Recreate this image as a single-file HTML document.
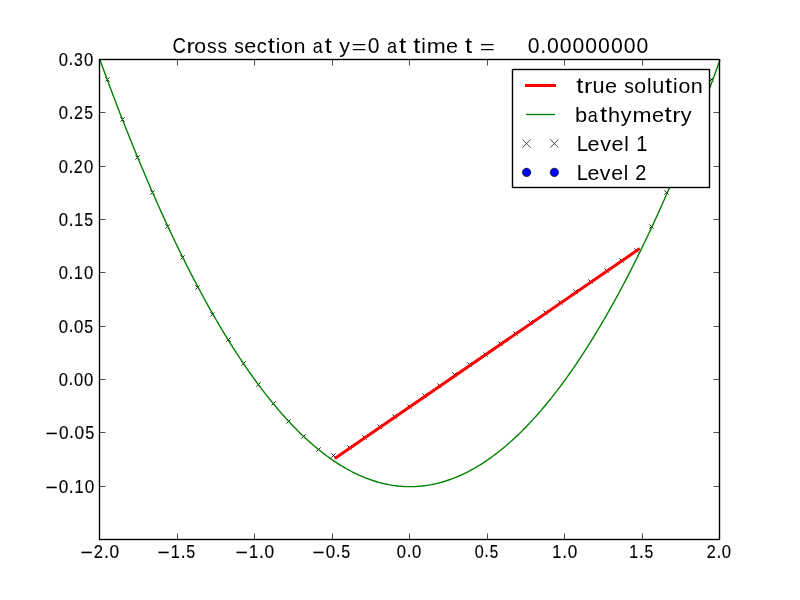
<!DOCTYPE html><html><head><meta charset="utf-8"><style>html,body{margin:0;padding:0;background:#fff;overflow:hidden}svg{display:block;will-change:transform}</style></head><body><svg width="800" height="600" viewBox="0 0 800 600">
<rect width="800" height="600" fill="#fff"/>
<path d="M105.40 77.40l4.20 4.20M105.40 81.60l4.20 -4.20M120.40 117.40l4.20 4.20M120.40 121.60l4.20 -4.20M135.40 155.40l4.20 4.20M135.40 159.60l4.20 -4.20M150.40 190.40l4.20 4.20M150.40 194.60l4.20 -4.20M165.40 224.40l4.20 4.20M165.40 228.60l4.20 -4.20M180.40 255.40l4.20 4.20M180.40 259.60l4.20 -4.20M195.40 285.40l4.20 4.20M195.40 289.60l4.20 -4.20M210.40 312.40l4.20 4.20M210.40 316.60l4.20 -4.20M226.40 337.40l4.20 4.20M226.40 341.60l4.20 -4.20M241.40 361.40l4.20 4.20M241.40 365.60l4.20 -4.20M256.40 382.40l4.20 4.20M256.40 386.60l4.20 -4.20M271.40 401.40l4.20 4.20M271.40 405.60l4.20 -4.20M286.40 419.40l4.20 4.20M286.40 423.60l4.20 -4.20M301.40 434.40l4.20 4.20M301.40 438.60l4.20 -4.20M316.40 447.40l4.20 4.20M316.40 451.60l4.20 -4.20M331.40 453.40l4.20 4.20M331.40 457.60l4.20 -4.20M347.40 445.40l4.20 4.20M347.40 449.60l4.20 -4.20M362.40 435.40l4.20 4.20M362.40 439.60l4.20 -4.20M377.40 424.40l4.20 4.20M377.40 428.60l4.20 -4.20M392.40 414.40l4.20 4.20M392.40 418.60l4.20 -4.20M407.40 404.40l4.20 4.20M407.40 408.60l4.20 -4.20M422.40 393.40l4.20 4.20M422.40 397.60l4.20 -4.20M437.40 383.40l4.20 4.20M437.40 387.60l4.20 -4.20M452.40 372.40l4.20 4.20M452.40 376.60l4.20 -4.20M467.40 362.40l4.20 4.20M467.40 366.60l4.20 -4.20M483.40 352.40l4.20 4.20M483.40 356.60l4.20 -4.20M498.40 341.40l4.20 4.20M498.40 345.60l4.20 -4.20M513.40 331.40l4.20 4.20M513.40 335.60l4.20 -4.20M528.40 320.40l4.20 4.20M528.40 324.60l4.20 -4.20M543.40 310.40l4.20 4.20M543.40 314.60l4.20 -4.20M558.40 300.40l4.20 4.20M558.40 304.60l4.20 -4.20M573.40 289.40l4.20 4.20M573.40 293.60l4.20 -4.20M588.40 279.40l4.20 4.20M588.40 283.60l4.20 -4.20M604.40 268.40l4.20 4.20M604.40 272.60l4.20 -4.20M619.40 258.40l4.20 4.20M619.40 262.60l4.20 -4.20M634.40 248.40l4.20 4.20M634.40 252.60l4.20 -4.20M649.40 224.40l4.20 4.20M649.40 228.60l4.20 -4.20M664.40 190.40l4.20 4.20M664.40 194.60l4.20 -4.20M679.40 155.40l4.20 4.20M679.40 159.60l4.20 -4.20M694.40 117.40l4.20 4.20M694.40 121.60l4.20 -4.20M709.40 77.40l4.20 4.20M709.40 81.60l4.20 -4.20" stroke="#000" stroke-width="0.85" fill="none"/>
<polyline points="100.00,60.00 101.55,64.26 103.10,68.49 104.65,72.70 106.20,76.90 107.75,81.07 109.30,85.22 110.85,89.34 112.40,93.45 113.95,97.54 115.50,101.60 117.05,105.64 118.60,109.66 120.15,113.66 121.70,117.64 123.25,121.60 124.80,125.54 126.35,129.45 127.90,133.34 129.45,137.22 131.00,141.07 132.55,144.90 134.10,148.70 135.65,152.49 137.20,156.26 138.75,160.00 140.30,163.72 141.85,167.42 143.40,171.10 144.95,174.76 146.50,178.40 148.05,182.02 149.60,185.61 151.15,189.18 152.70,192.74 154.25,196.27 155.80,199.78 157.35,203.26 158.90,206.73 160.45,210.18 162.00,213.60 163.55,217.00 165.10,220.38 166.65,223.74 168.20,227.08 169.75,230.40 171.30,233.70 172.85,236.97 174.40,240.22 175.95,243.46 177.50,246.67 179.05,249.86 180.60,253.02 182.15,256.17 183.70,259.30 185.25,262.40 186.80,265.48 188.35,268.54 189.90,271.58 191.45,274.60 193.00,277.60 194.55,280.58 196.10,283.53 197.65,286.46 199.20,289.38 200.75,292.27 202.30,295.14 203.85,297.98 205.40,300.81 206.95,303.62 208.50,306.40 210.05,309.16 211.60,311.90 213.15,314.62 214.70,317.32 216.25,320.00 217.80,322.66 219.35,325.29 220.90,327.90 222.45,330.50 224.00,333.07 225.55,335.62 227.10,338.14 228.65,340.65 230.20,343.14 231.75,345.60 233.30,348.04 234.85,350.46 236.40,352.86 237.95,355.24 239.50,357.60 241.05,359.94 242.60,362.25 244.15,364.54 245.70,366.82 247.25,369.07 248.80,371.30 250.35,373.50 251.90,375.69 253.45,377.86 255.00,380.00 256.55,382.12 258.10,384.22 259.65,386.30 261.20,388.36 262.75,390.40 264.30,392.42 265.85,394.41 267.40,396.38 268.95,398.34 270.50,400.27 272.05,402.18 273.60,404.06 275.15,405.93 276.70,407.78 278.25,409.60 279.80,411.40 281.35,413.18 282.90,414.94 284.45,416.68 286.00,418.40 287.55,420.10 289.10,421.77 290.65,423.42 292.20,425.06 293.75,426.67 295.30,428.26 296.85,429.82 298.40,431.37 299.95,432.90 301.50,434.40 303.05,435.88 304.60,437.34 306.15,438.78 307.70,440.20 309.25,441.60 310.80,442.98 312.35,444.33 313.90,445.66 315.45,446.98 317.00,448.27 318.55,449.54 320.10,450.78 321.65,452.01 323.20,453.22 324.75,454.40 326.30,455.56 327.85,456.70 329.40,457.82 330.95,458.92 332.50,460.00 334.05,461.06 335.60,462.09 337.15,463.10 338.70,464.10 340.25,465.07 341.80,466.02 343.35,466.94 344.90,467.85 346.45,468.74 348.00,469.60 349.55,470.44 351.10,471.26 352.65,472.06 354.20,472.84 355.75,473.60 357.30,474.34 358.85,475.05 360.40,475.74 361.95,476.42 363.50,477.07 365.05,477.70 366.60,478.30 368.15,478.89 369.70,479.46 371.25,480.00 372.80,480.52 374.35,481.02 375.90,481.50 377.45,481.96 379.00,482.40 380.55,482.82 382.10,483.21 383.65,483.58 385.20,483.94 386.75,484.27 388.30,484.58 389.85,484.86 391.40,485.13 392.95,485.38 394.50,485.60 396.05,485.80 397.60,485.98 399.15,486.14 400.70,486.28 402.25,486.40 403.80,486.50 405.35,486.57 406.90,486.62 408.45,486.66 410.00,486.67 411.55,486.66 413.10,486.62 414.65,486.57 416.20,486.50 417.75,486.40 419.30,486.28 420.85,486.14 422.40,485.98 423.95,485.80 425.50,485.60 427.05,485.38 428.60,485.13 430.15,484.86 431.70,484.58 433.25,484.27 434.80,483.94 436.35,483.58 437.90,483.21 439.45,482.82 441.00,482.40 442.55,481.96 444.10,481.50 445.65,481.02 447.20,480.52 448.75,480.00 450.30,479.46 451.85,478.89 453.40,478.30 454.95,477.70 456.50,477.07 458.05,476.42 459.60,475.74 461.15,475.05 462.70,474.34 464.25,473.60 465.80,472.84 467.35,472.06 468.90,471.26 470.45,470.44 472.00,469.60 473.55,468.74 475.10,467.85 476.65,466.94 478.20,466.02 479.75,465.07 481.30,464.10 482.85,463.10 484.40,462.09 485.95,461.06 487.50,460.00 489.05,458.92 490.60,457.82 492.15,456.70 493.70,455.56 495.25,454.40 496.80,453.22 498.35,452.01 499.90,450.78 501.45,449.54 503.00,448.27 504.55,446.98 506.10,445.66 507.65,444.33 509.20,442.98 510.75,441.60 512.30,440.20 513.85,438.78 515.40,437.34 516.95,435.88 518.50,434.40 520.05,432.90 521.60,431.37 523.15,429.82 524.70,428.26 526.25,426.67 527.80,425.06 529.35,423.42 530.90,421.77 532.45,420.10 534.00,418.40 535.55,416.68 537.10,414.94 538.65,413.18 540.20,411.40 541.75,409.60 543.30,407.78 544.85,405.93 546.40,404.06 547.95,402.18 549.50,400.27 551.05,398.34 552.60,396.38 554.15,394.41 555.70,392.42 557.25,390.40 558.80,388.36 560.35,386.30 561.90,384.22 563.45,382.12 565.00,380.00 566.55,377.86 568.10,375.69 569.65,373.50 571.20,371.30 572.75,369.07 574.30,366.82 575.85,364.54 577.40,362.25 578.95,359.94 580.50,357.60 582.05,355.24 583.60,352.86 585.15,350.46 586.70,348.04 588.25,345.60 589.80,343.14 591.35,340.65 592.90,338.14 594.45,335.62 596.00,333.07 597.55,330.50 599.10,327.90 600.65,325.29 602.20,322.66 603.75,320.00 605.30,317.32 606.85,314.62 608.40,311.90 609.95,309.16 611.50,306.40 613.05,303.62 614.60,300.81 616.15,297.98 617.70,295.14 619.25,292.27 620.80,289.38 622.35,286.46 623.90,283.53 625.45,280.58 627.00,277.60 628.55,274.60 630.10,271.58 631.65,268.54 633.20,265.48 634.75,262.40 636.30,259.30 637.85,256.17 639.40,253.02 640.95,249.86 642.50,246.67 644.05,243.46 645.60,240.22 647.15,236.97 648.70,233.70 650.25,230.40 651.80,227.08 653.35,223.74 654.90,220.38 656.45,217.00 658.00,213.60 659.55,210.18 661.10,206.73 662.65,203.26 664.20,199.78 665.75,196.27 667.30,192.74 668.85,189.18 670.40,185.61 671.95,182.02 673.50,178.40 675.05,174.76 676.60,171.10 678.15,167.42 679.70,163.72 681.25,160.00 682.80,156.26 684.35,152.49 685.90,148.70 687.45,144.90 689.00,141.07 690.55,137.22 692.10,133.34 693.65,129.45 695.20,125.54 696.75,121.60 698.30,117.64 699.85,113.66 701.40,109.66 702.95,105.64 704.50,101.60 706.05,97.54 707.60,93.45 709.15,89.34 710.70,85.22 712.25,81.07 713.80,76.90 715.35,72.70 716.90,68.49 718.45,64.26 720.00,60.00" fill="none" stroke="#008000" stroke-width="1.39" stroke-linejoin="round"/>
<line x1="334.75" y1="458.45" x2="639.71" y2="248.59" stroke="#f00" stroke-width="3.00"/>
<rect x="99.5" y="59.5" width="620" height="480" fill="none" stroke="#000" stroke-width="1.39"/>
<path d="M177.5 539.5V533.50M177.5 59.5V65.50M254.5 539.5V533.50M254.5 59.5V65.50M332.5 539.5V533.50M332.5 59.5V65.50M409.5 539.5V533.50M409.5 59.5V65.50M487.5 539.5V533.50M487.5 59.5V65.50M564.5 539.5V533.50M564.5 59.5V65.50M642.5 539.5V533.50M642.5 59.5V65.50M99.5 112.5H105.50M719.5 112.5H713.50M99.5 166.5H105.50M719.5 166.5H713.50M99.5 219.5H105.50M719.5 219.5H713.50M99.5 272.5H105.50M719.5 272.5H713.50M99.5 326.5H105.50M719.5 326.5H713.50M99.5 379.5H105.50M719.5 379.5H713.50M99.5 432.5H105.50M719.5 432.5H713.50M99.5 486.5H105.50M719.5 486.5H713.50" stroke="#000" stroke-width="0.69" fill="none"/>
<g font-family="Liberation Sans, sans-serif" font-size="100" style="font-kerning:none">
<g fill="#000"><text transform="matrix(0.1661 0 0 0.1780 58.851 65.526)" stroke="#000" stroke-width="0.697">0</text><text transform="matrix(0.1705 0 0 0.1933 68.615 65.464)" stroke="#000" stroke-width="0.660">.</text><text transform="matrix(0.1595 0 0 0.1780 74.088 65.526)" stroke="#000" stroke-width="0.711">3</text><text transform="matrix(0.1661 0 0 0.1780 83.911 65.526)" stroke="#000" stroke-width="0.697">0</text></g>
<g fill="#000"><text transform="matrix(0.1678 0 0 0.1780 58.845 118.776)" stroke="#000" stroke-width="0.694">0</text><text transform="matrix(0.1722 0 0 0.1933 68.707 118.714)" stroke="#000" stroke-width="0.657">.</text><text transform="matrix(0.1617 0 0 0.1772 73.990 118.714)" stroke="#000" stroke-width="0.708">2</text><text transform="matrix(0.1584 0 0 0.1775 84.358 118.777)" stroke="#000" stroke-width="0.715">5</text></g>
<g fill="#000"><text transform="matrix(0.1661 0 0 0.1780 58.851 172.776)" stroke="#000" stroke-width="0.697">0</text><text transform="matrix(0.1705 0 0 0.1933 68.615 172.714)" stroke="#000" stroke-width="0.660">.</text><text transform="matrix(0.1601 0 0 0.1772 73.844 172.714)" stroke="#000" stroke-width="0.712">2</text><text transform="matrix(0.1661 0 0 0.1780 83.911 172.776)" stroke="#000" stroke-width="0.697">0</text></g>
<g fill="#000"><text transform="matrix(0.1678 0 0 0.1780 58.845 225.776)" stroke="#000" stroke-width="0.694">0</text><text transform="matrix(0.1722 0 0 0.1933 68.707 225.714)" stroke="#000" stroke-width="0.657">.</text><text transform="matrix(0.1603 0 0 0.1766 74.165 225.714)" stroke="#000" stroke-width="0.712">1</text><text transform="matrix(0.1584 0 0 0.1775 84.358 225.777)" stroke="#000" stroke-width="0.715">5</text></g>
<g fill="#000"><text transform="matrix(0.1661 0 0 0.1780 58.851 278.776)" stroke="#000" stroke-width="0.697">0</text><text transform="matrix(0.1705 0 0 0.1933 68.615 278.714)" stroke="#000" stroke-width="0.660">.</text><text transform="matrix(0.1586 0 0 0.1766 74.018 278.714)" stroke="#000" stroke-width="0.716">1</text><text transform="matrix(0.1661 0 0 0.1780 83.911 278.776)" stroke="#000" stroke-width="0.697">0</text></g>
<g fill="#000"><text transform="matrix(0.1678 0 0 0.1780 58.845 332.526)" stroke="#000" stroke-width="0.694">0</text><text transform="matrix(0.1722 0 0 0.1933 68.707 332.464)" stroke="#000" stroke-width="0.657">.</text><text transform="matrix(0.1678 0 0 0.1780 74.031 332.526)" stroke="#000" stroke-width="0.694">0</text><text transform="matrix(0.1584 0 0 0.1775 84.358 332.527)" stroke="#000" stroke-width="0.715">5</text></g>
<g fill="#000"><text transform="matrix(0.1661 0 0 0.1780 58.851 385.526)" stroke="#000" stroke-width="0.697">0</text><text transform="matrix(0.1705 0 0 0.1933 68.615 385.464)" stroke="#000" stroke-width="0.660">.</text><text transform="matrix(0.1661 0 0 0.1780 73.885 385.526)" stroke="#000" stroke-width="0.697">0</text><text transform="matrix(0.1661 0 0 0.1780 83.911 385.526)" stroke="#000" stroke-width="0.697">0</text></g>
<g fill="#000"><text transform="matrix(0.2109 0 0 0.1941 45.460 439.692)" stroke="#000" stroke-width="0.593">−</text><text transform="matrix(0.1726 0 0 0.1780 58.887 438.526)" stroke="#000" stroke-width="0.685">0</text><text transform="matrix(0.1771 0 0 0.1933 69.030 438.464)" stroke="#000" stroke-width="0.648">.</text><text transform="matrix(0.1726 0 0 0.1780 74.506 438.526)" stroke="#000" stroke-width="0.685">0</text><text transform="matrix(0.1629 0 0 0.1775 85.127 438.527)" stroke="#000" stroke-width="0.705">5</text></g>
<g fill="#000"><text transform="matrix(0.2094 0 0 0.1941 45.467 493.942)" stroke="#000" stroke-width="0.595">−</text><text transform="matrix(0.1713 0 0 0.1780 58.797 492.776)" stroke="#000" stroke-width="0.687">0</text><text transform="matrix(0.1758 0 0 0.1933 68.867 492.714)" stroke="#000" stroke-width="0.650">.</text><text transform="matrix(0.1636 0 0 0.1766 74.439 492.714)" stroke="#000" stroke-width="0.705">1</text><text transform="matrix(0.1713 0 0 0.1780 84.642 492.776)" stroke="#000" stroke-width="0.687">0</text></g>
<g fill="#000"><text transform="matrix(0.2113 0 0 0.1941 80.458 558.942)" stroke="#000" stroke-width="0.592">−</text><text transform="matrix(0.1667 0 0 0.1772 93.868 557.714)" stroke="#000" stroke-width="0.698">2</text><text transform="matrix(0.1775 0 0 0.1933 104.074 557.714)" stroke="#000" stroke-width="0.647">.</text><text transform="matrix(0.1729 0 0 0.1780 109.560 557.776)" stroke="#000" stroke-width="0.684">0</text></g>
<g fill="#000"><text transform="matrix(0.2075 0 0 0.1941 157.476 558.942)" stroke="#000" stroke-width="0.598">−</text><text transform="matrix(0.1622 0 0 0.1766 170.825 557.714)" stroke="#000" stroke-width="0.708">1</text><text transform="matrix(0.1743 0 0 0.1933 180.670 557.714)" stroke="#000" stroke-width="0.653">.</text><text transform="matrix(0.1603 0 0 0.1775 186.260 557.777)" stroke="#000" stroke-width="0.711">5</text></g>
<g fill="#000"><text transform="matrix(0.2113 0 0 0.1941 235.458 558.942)" stroke="#000" stroke-width="0.592">−</text><text transform="matrix(0.1651 0 0 0.1766 249.049 557.714)" stroke="#000" stroke-width="0.702">1</text><text transform="matrix(0.1775 0 0 0.1933 259.074 557.714)" stroke="#000" stroke-width="0.647">.</text><text transform="matrix(0.1729 0 0 0.1780 264.560 557.776)" stroke="#000" stroke-width="0.684">0</text></g>
<g fill="#000"><text transform="matrix(0.2075 0 0 0.1941 312.476 558.692)" stroke="#000" stroke-width="0.598">−</text><text transform="matrix(0.1698 0 0 0.1780 325.689 557.526)" stroke="#000" stroke-width="0.690">0</text><text transform="matrix(0.1743 0 0 0.1933 335.670 557.464)" stroke="#000" stroke-width="0.653">.</text><text transform="matrix(0.1603 0 0 0.1775 341.260 557.527)" stroke="#000" stroke-width="0.711">5</text></g>
<g fill="#000"><text transform="matrix(0.1663 0 0 0.1780 396.850 557.526)" stroke="#000" stroke-width="0.697">0</text><text transform="matrix(0.1707 0 0 0.1933 406.625 557.464)" stroke="#000" stroke-width="0.659">.</text><text transform="matrix(0.1663 0 0 0.1780 411.901 557.526)" stroke="#000" stroke-width="0.697">0</text></g>
<g fill="#000"><text transform="matrix(0.1614 0 0 0.1780 474.870 557.526)" stroke="#000" stroke-width="0.707">0</text><text transform="matrix(0.1657 0 0 0.1933 484.356 557.464)" stroke="#000" stroke-width="0.669">.</text><text transform="matrix(0.1523 0 0 0.1775 489.669 557.527)" stroke="#000" stroke-width="0.728">5</text></g>
<g fill="#000"><text transform="matrix(0.1638 0 0 0.1766 552.253 557.714)" stroke="#000" stroke-width="0.705">1</text><text transform="matrix(0.1760 0 0 0.1933 562.194 557.714)" stroke="#000" stroke-width="0.650">.</text><text transform="matrix(0.1715 0 0 0.1780 567.634 557.776)" stroke="#000" stroke-width="0.687">0</text></g>
<g fill="#000"><text transform="matrix(0.1590 0 0 0.1766 629.289 557.714)" stroke="#000" stroke-width="0.715">1</text><text transform="matrix(0.1709 0 0 0.1933 638.941 557.714)" stroke="#000" stroke-width="0.659">.</text><text transform="matrix(0.1571 0 0 0.1775 644.422 557.777)" stroke="#000" stroke-width="0.717">5</text></g>
<g fill="#000"><text transform="matrix(0.1611 0 0 0.1772 706.690 557.714)" stroke="#000" stroke-width="0.710">2</text><text transform="matrix(0.1716 0 0 0.1933 716.555 557.714)" stroke="#000" stroke-width="0.658">.</text><text transform="matrix(0.1671 0 0 0.1780 721.858 557.776)" stroke="#000" stroke-width="0.695">0</text></g>
<g fill="#000"><text transform="matrix(0.1860 0 0 0.2137 172.555 53.114)">C</text><text transform="matrix(0.2498 0 0 0.2082 186.613 53.040)">r</text><text transform="matrix(0.2130 0 0 0.2096 194.374 53.118)">o</text><text transform="matrix(0.1921 0 0 0.2102 206.973 53.118)">s</text><text transform="matrix(0.1921 0 0 0.2102 217.412 53.118)">s</text><text transform="matrix(0.1921 0 0 0.2102 234.220 53.118)">s</text><text transform="matrix(0.2164 0 0 0.2096 244.294 53.118)">e</text><text transform="matrix(0.2010 0 0 0.2096 256.687 53.118)">c</text><text transform="matrix(0.2576 0 0 0.2146 267.730 52.872)">t</text><text transform="matrix(0.2048 0 0 0.2097 275.826 53.040)">i</text><text transform="matrix(0.2130 0 0 0.2096 281.085 53.118)">o</text><text transform="matrix(0.2160 0 0 0.2082 293.518 53.040)">n</text><text transform="matrix(0.1802 0 0 0.2096 312.639 53.118)">a</text><text transform="matrix(0.2576 0 0 0.2146 324.759 52.872)">t</text><text transform="matrix(0.2152 0 0 0.2052 339.249 52.942)">y</text><text transform="matrix(0.2582 0 0 0.1752 351.425 52.544)">=</text><text transform="matrix(0.2112 0 0 0.2137 367.847 53.114)">0</text><text transform="matrix(0.1802 0 0 0.2096 386.906 53.118)">a</text><text transform="matrix(0.2576 0 0 0.2146 399.025 52.872)">t</text><text transform="matrix(0.2576 0 0 0.2146 413.251 52.872)">t</text><text transform="matrix(0.2048 0 0 0.2097 421.346 53.040)">i</text><text transform="matrix(0.2283 0 0 0.2082 426.698 53.040)">m</text><text transform="matrix(0.2164 0 0 0.2096 446.099 53.118)">e</text><text transform="matrix(0.2576 0 0 0.2146 464.888 52.872)">t</text><text transform="matrix(0.2582 0 0 0.1752 479.697 52.544)">=</text></g>
<g fill="#000"><text transform="matrix(0.2122 0 0 0.2137 527.671 53.491)">0</text><text transform="matrix(0.2178 0 0 0.2320 540.144 53.417)">.</text><text transform="matrix(0.2122 0 0 0.2137 546.877 53.491)">0</text><text transform="matrix(0.2122 0 0 0.2137 559.684 53.491)">0</text><text transform="matrix(0.2122 0 0 0.2137 572.491 53.491)">0</text><text transform="matrix(0.2122 0 0 0.2137 585.299 53.491)">0</text><text transform="matrix(0.2122 0 0 0.2137 598.106 53.491)">0</text><text transform="matrix(0.2122 0 0 0.2137 610.913 53.491)">0</text><text transform="matrix(0.2122 0 0 0.2137 623.720 53.491)">0</text><text transform="matrix(0.2122 0 0 0.2137 636.528 53.491)">0</text></g>
</g>
<rect x="512.5" y="69.5" width="197" height="118" fill="#fff" stroke="#000" stroke-width="1.39"/>
<rect x="525" y="84" width="31" height="3" fill="#f00"/>
<line x1="526" y1="114.5" x2="555" y2="114.5" stroke="#008000" stroke-width="1.39"/>
<path d="M522.43 139.33l8.34 8.34M522.43 147.67l8.34 -8.34" stroke="#000" stroke-width="0.69"/>
<circle cx="526.60" cy="172.4" r="4.17" fill="#00f" stroke="#000" stroke-width="0.69"/>
<path d="M550.23 139.33l8.34 8.34M550.23 147.67l8.34 -8.34" stroke="#000" stroke-width="0.69"/>
<circle cx="554.40" cy="172.4" r="4.17" fill="#00f" stroke="#000" stroke-width="0.69"/>
<g font-family="Liberation Sans, sans-serif" font-size="100" style="font-kerning:none">
<g fill="#000"><text transform="matrix(0.2576 0 0 0.2146 576.252 92.749)">t</text><text transform="matrix(0.2498 0 0 0.2082 584.106 92.917)">r</text><text transform="matrix(0.2167 0 0 0.2134 592.407 92.992)">u</text><text transform="matrix(0.2171 0 0 0.2096 605.034 92.995)">e</text><text transform="matrix(0.1927 0 0 0.2102 624.158 92.995)">s</text><text transform="matrix(0.2137 0 0 0.2096 634.289 92.995)">o</text><text transform="matrix(0.2055 0 0 0.2097 646.886 92.917)">l</text><text transform="matrix(0.2167 0 0 0.2134 652.262 92.992)">u</text><text transform="matrix(0.2576 0 0 0.2146 664.994 92.749)">t</text><text transform="matrix(0.2055 0 0 0.2097 673.103 92.917)">i</text><text transform="matrix(0.2137 0 0 0.2096 678.380 92.995)">o</text><text transform="matrix(0.2167 0 0 0.2082 690.854 92.917)">n</text></g>
<g fill="#000"><text transform="matrix(0.2184 0 0 0.2108 575.092 122.117)">b</text><text transform="matrix(0.1805 0 0 0.2096 587.858 122.118)">a</text><text transform="matrix(0.2576 0 0 0.2146 600.006 121.872)">t</text><text transform="matrix(0.2179 0 0 0.2097 607.902 122.040)">h</text><text transform="matrix(0.2156 0 0 0.2052 620.858 121.942)">y</text><text transform="matrix(0.2287 0 0 0.2082 632.496 122.040)">m</text><text transform="matrix(0.2168 0 0 0.2096 651.932 122.118)">e</text><text transform="matrix(0.2576 0 0 0.2146 664.381 121.872)">t</text><text transform="matrix(0.2498 0 0 0.2082 672.222 122.040)">r</text><text transform="matrix(0.2156 0 0 0.2052 680.764 121.942)">y</text></g>
<g fill="#000"><text transform="matrix(0.2056 0 0 0.2119 576.814 150.917)">L</text><text transform="matrix(0.2158 0 0 0.2096 587.505 150.995)">e</text><text transform="matrix(0.2156 0 0 0.2070 600.134 150.917)">v</text><text transform="matrix(0.2158 0 0 0.2096 611.622 150.995)">e</text><text transform="matrix(0.2042 0 0 0.2097 624.236 150.917)">l</text><text transform="matrix(0.2012 0 0 0.2119 636.295 150.917)">1</text></g>
<g fill="#000"><text transform="matrix(0.2030 0 0 0.2119 576.835 179.917)">L</text><text transform="matrix(0.2131 0 0 0.2096 587.393 179.995)">e</text><text transform="matrix(0.2129 0 0 0.2070 599.865 179.917)">v</text><text transform="matrix(0.2131 0 0 0.2096 611.210 179.995)">e</text><text transform="matrix(0.2017 0 0 0.2097 623.667 179.917)">l</text><text transform="matrix(0.2005 0 0 0.2126 635.358 179.917)">2</text></g>
</g>
</svg></body></html>
